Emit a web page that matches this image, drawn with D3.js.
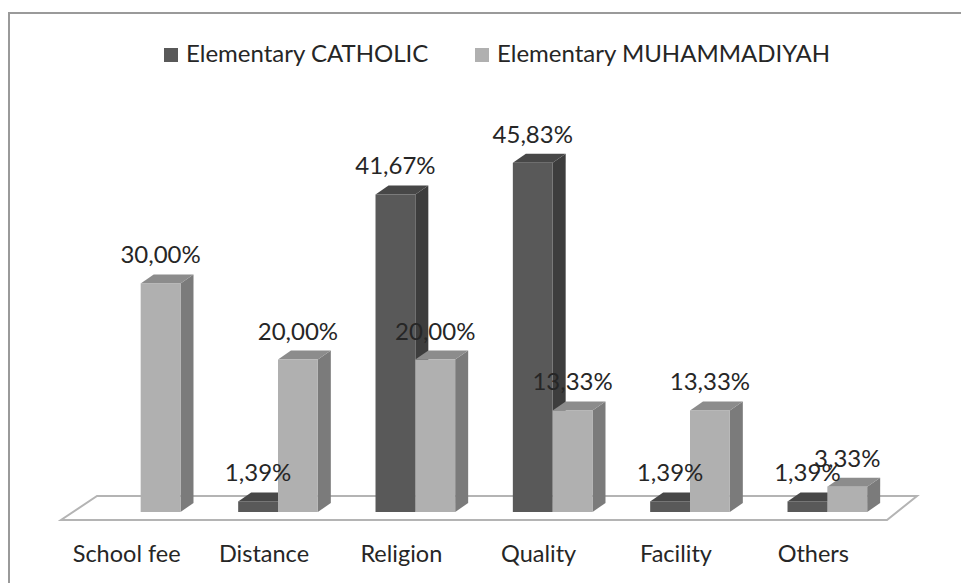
<!DOCTYPE html>
<html>
    <head>
        <script src="https://d3js.org/d3.v7.min.js" charset="utf-8"></script>
        <style>
            body { margin: 0; background: #fff; }
            text { font-family: Lato, "Open Sans", sans-serif; fill: #262626; }
        </style>
    </head>
    <body>
        <svg id="chart" width="961" height="583"></svg>
    </body>
    <script>
        var categories = ["School fee", "Distance", "Religion", "Quality", "Facility", "Others"];
        var seriesNames = ["Elementary CATHOLIC", "Elementary MUHAMMADIYAH"];
        var catholic = [0, 1.39, 41.67, 45.83, 1.39, 1.39];
        var muhammadiyah = [30.00, 20.00, 20.00, 13.33, 13.33, 3.33];

        var svg = d3.select('#chart'),
            base = 512,           // where the bars stand on the floor
            dx = 13, dy = -9;     // depth of each column

        var fills = [
            {front: "#595959", side: "#3d3d3d", top: "#474747"},
            {front: "#b0b0b0", side: "#7b7b7b", top: "#8c8c8c"}
        ];

        var x = d3.scaleBand().domain(categories).range([72, 896]).paddingInner(0.42).paddingOuter(0.21);
        var xs = d3.scaleBand().domain([0, 1]).range([0, x.bandwidth()]);
        var y = d3.scaleLinear().domain([0, 50]).range([base, 131]);

        var fmt = function(v) { return d3.format(".2f")(v).replace(".", ",") + "%"; };

        // outer frame (cut off by the picture on the right and bottom)
        svg.append('rect')
            .attr('x', 9).attr('y', 13).attr('width', 980).attr('height', 600)
            .attr('fill', 'none').attr('stroke', '#9a9a9a').attr('stroke-width', 2);

        // floor
        var fl = x.range()[0] - 11, fr = x.range()[1] - 9;
        svg.append('path')
            .attr('d', 'M' + fl + ',520 L' + fr + ',520 L' + (fr + 30) + ',496 L' + (fl + 36) + ',496 Z')
            .attr('fill', '#fff').attr('stroke', '#b4b4b4').attr('stroke-width', 2);

        var rows = categories.map(function(c, i) { return {cat: c, vals: [catholic[i], muhammadiyah[i]]}; });

        // columns
        rows.forEach(function(r) {
            r.vals.forEach(function(v, s) {
                if (!v) return;
                var x0 = x(r.cat) + xs(s), x1 = x0 + xs.bandwidth(), yt = y(v);
                var g = svg.append('g');
                g.append('path')
                    .attr('d', 'M' + x1 + ',' + base + ' L' + (x1 + dx) + ',' + (base + dy) + ' L' + (x1 + dx) + ',' + (yt + dy) + ' L' + x1 + ',' + yt + ' Z')
                    .attr('fill', fills[s].side);
                g.append('path')
                    .attr('d', 'M' + x0 + ',' + yt + ' L' + (x0 + dx) + ',' + (yt + dy) + ' L' + (x1 + dx) + ',' + (yt + dy) + ' L' + x1 + ',' + yt + ' Z')
                    .attr('fill', fills[s].top);
                g.append('rect')
                    .attr('x', x0).attr('y', yt).attr('width', xs.bandwidth()).attr('height', base - yt)
                    .attr('fill', fills[s].front);
            });
        });

        // value labels
        [1, 0].forEach(function(s) {
            rows.forEach(function(r) {
                var v = r.vals[s];
                if (!v) return;
                svg.append('text')
                    .attr('x', x(r.cat) + xs(s) + xs.bandwidth() / 2)
                    .attr('y', y(v) - 20)
                    .attr('text-anchor', 'middle')
                    .attr('font-size', 24)
                    .text(fmt(v));
            });
        });

        // category labels at the front of the floor
        svg.selectAll('.cat').data(categories).enter().append('text')
            .attr('class', 'cat')
            .attr('x', function(d) { return x(d) + x.bandwidth() / 2 - 14; })
            .attr('y', 562)
            .attr('text-anchor', 'middle')
            .attr('font-size', 23.5)
            .text(function(d) { return d; });

        // legend
        var lx = [164, 475];
        seriesNames.forEach(function(n, s) {
            svg.append('rect')
                .attr('x', lx[s]).attr('y', 48).attr('width', 14).attr('height', 14)
                .attr('fill', fills[s].front);
            svg.append('text')
                .attr('x', lx[s] + 22).attr('y', 62)
                .attr('font-size', 24)
                .text(n);
        });
    </script>
</html>
